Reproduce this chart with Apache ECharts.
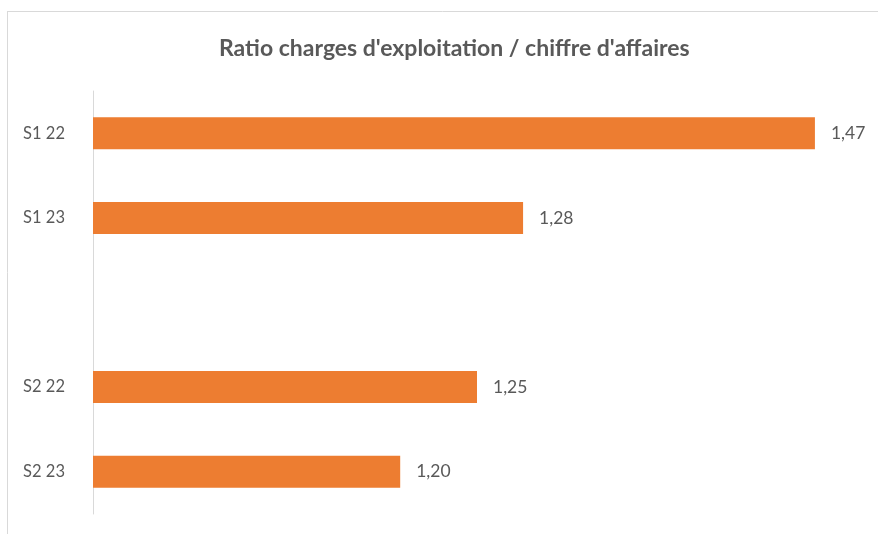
<!DOCTYPE html>
<html>
<head>
<meta charset="utf-8">
<script src="https://cdn.jsdelivr.net/npm/echarts@6/dist/echarts.min.js"></script>
<style>
html,body{margin:0;padding:0;background:#fff;}
#c{width:878px;height:534px;}
</style>
</head>
<body>
<div id="c"></div>
<script>
var titleText = "Ratio charges d'exploitation / chiffre d'affaires";
var categories = ['S1 22', 'S1 23', '', 'S2 22', 'S2 23'];
var values = [1.47, 1.28, null, 1.25, 1.20];
var axisMin = 1.0;
var axisMax = 1.5;

var chart = echarts.init(document.getElementById('c'), null, {renderer: 'canvas'});
chart.setOption({
  backgroundColor: '#fff',
  animation: false,
  title: {
    text: titleText,
    left: 214,
    top: 32,
    textStyle: {fontFamily: 'Lato', fontSize: 23, fontWeight: 'bold', color: '#595959'}
  },
  graphic: [
    {type: 'line', shape: {x1: 7, y1: 11.5, x2: 878, y2: 11.5}, style: {stroke: '#d9d9d9', lineWidth: 1}},
    {type: 'line', shape: {x1: 7.5, y1: 11, x2: 7.5, y2: 534}, style: {stroke: '#d9d9d9', lineWidth: 1}}
  ],
  grid: {left: 93, right: 17, top: 91, bottom: 20, containLabel: false},
  xAxis: {
    type: 'value', min: axisMin, max: axisMax, show: false
  },
  yAxis: {
    type: 'category', data: categories, inverse: true,
    axisLine: {show: true, lineStyle: {color: '#d9d9d9', width: 1}},
    axisTick: {show: false},
    axisLabel: {margin: 28, fontFamily: 'Lato', fontSize: 16.5, color: '#595959'},
    splitLine: {show: false}
  },
  series: [{
    type: 'bar',
    data: values,
    barWidth: 32,
    itemStyle: {color: '#ED7D31'},
    label: {
      show: true, position: 'right', distance: 16,
      fontFamily: 'Lato', fontSize: 17.5, color: '#595959',
      formatter: function (p) { return p.value == null ? '' : p.value.toFixed(2).replace('.', ','); }
    }
  }]
});
</script>
</body>
</html>
